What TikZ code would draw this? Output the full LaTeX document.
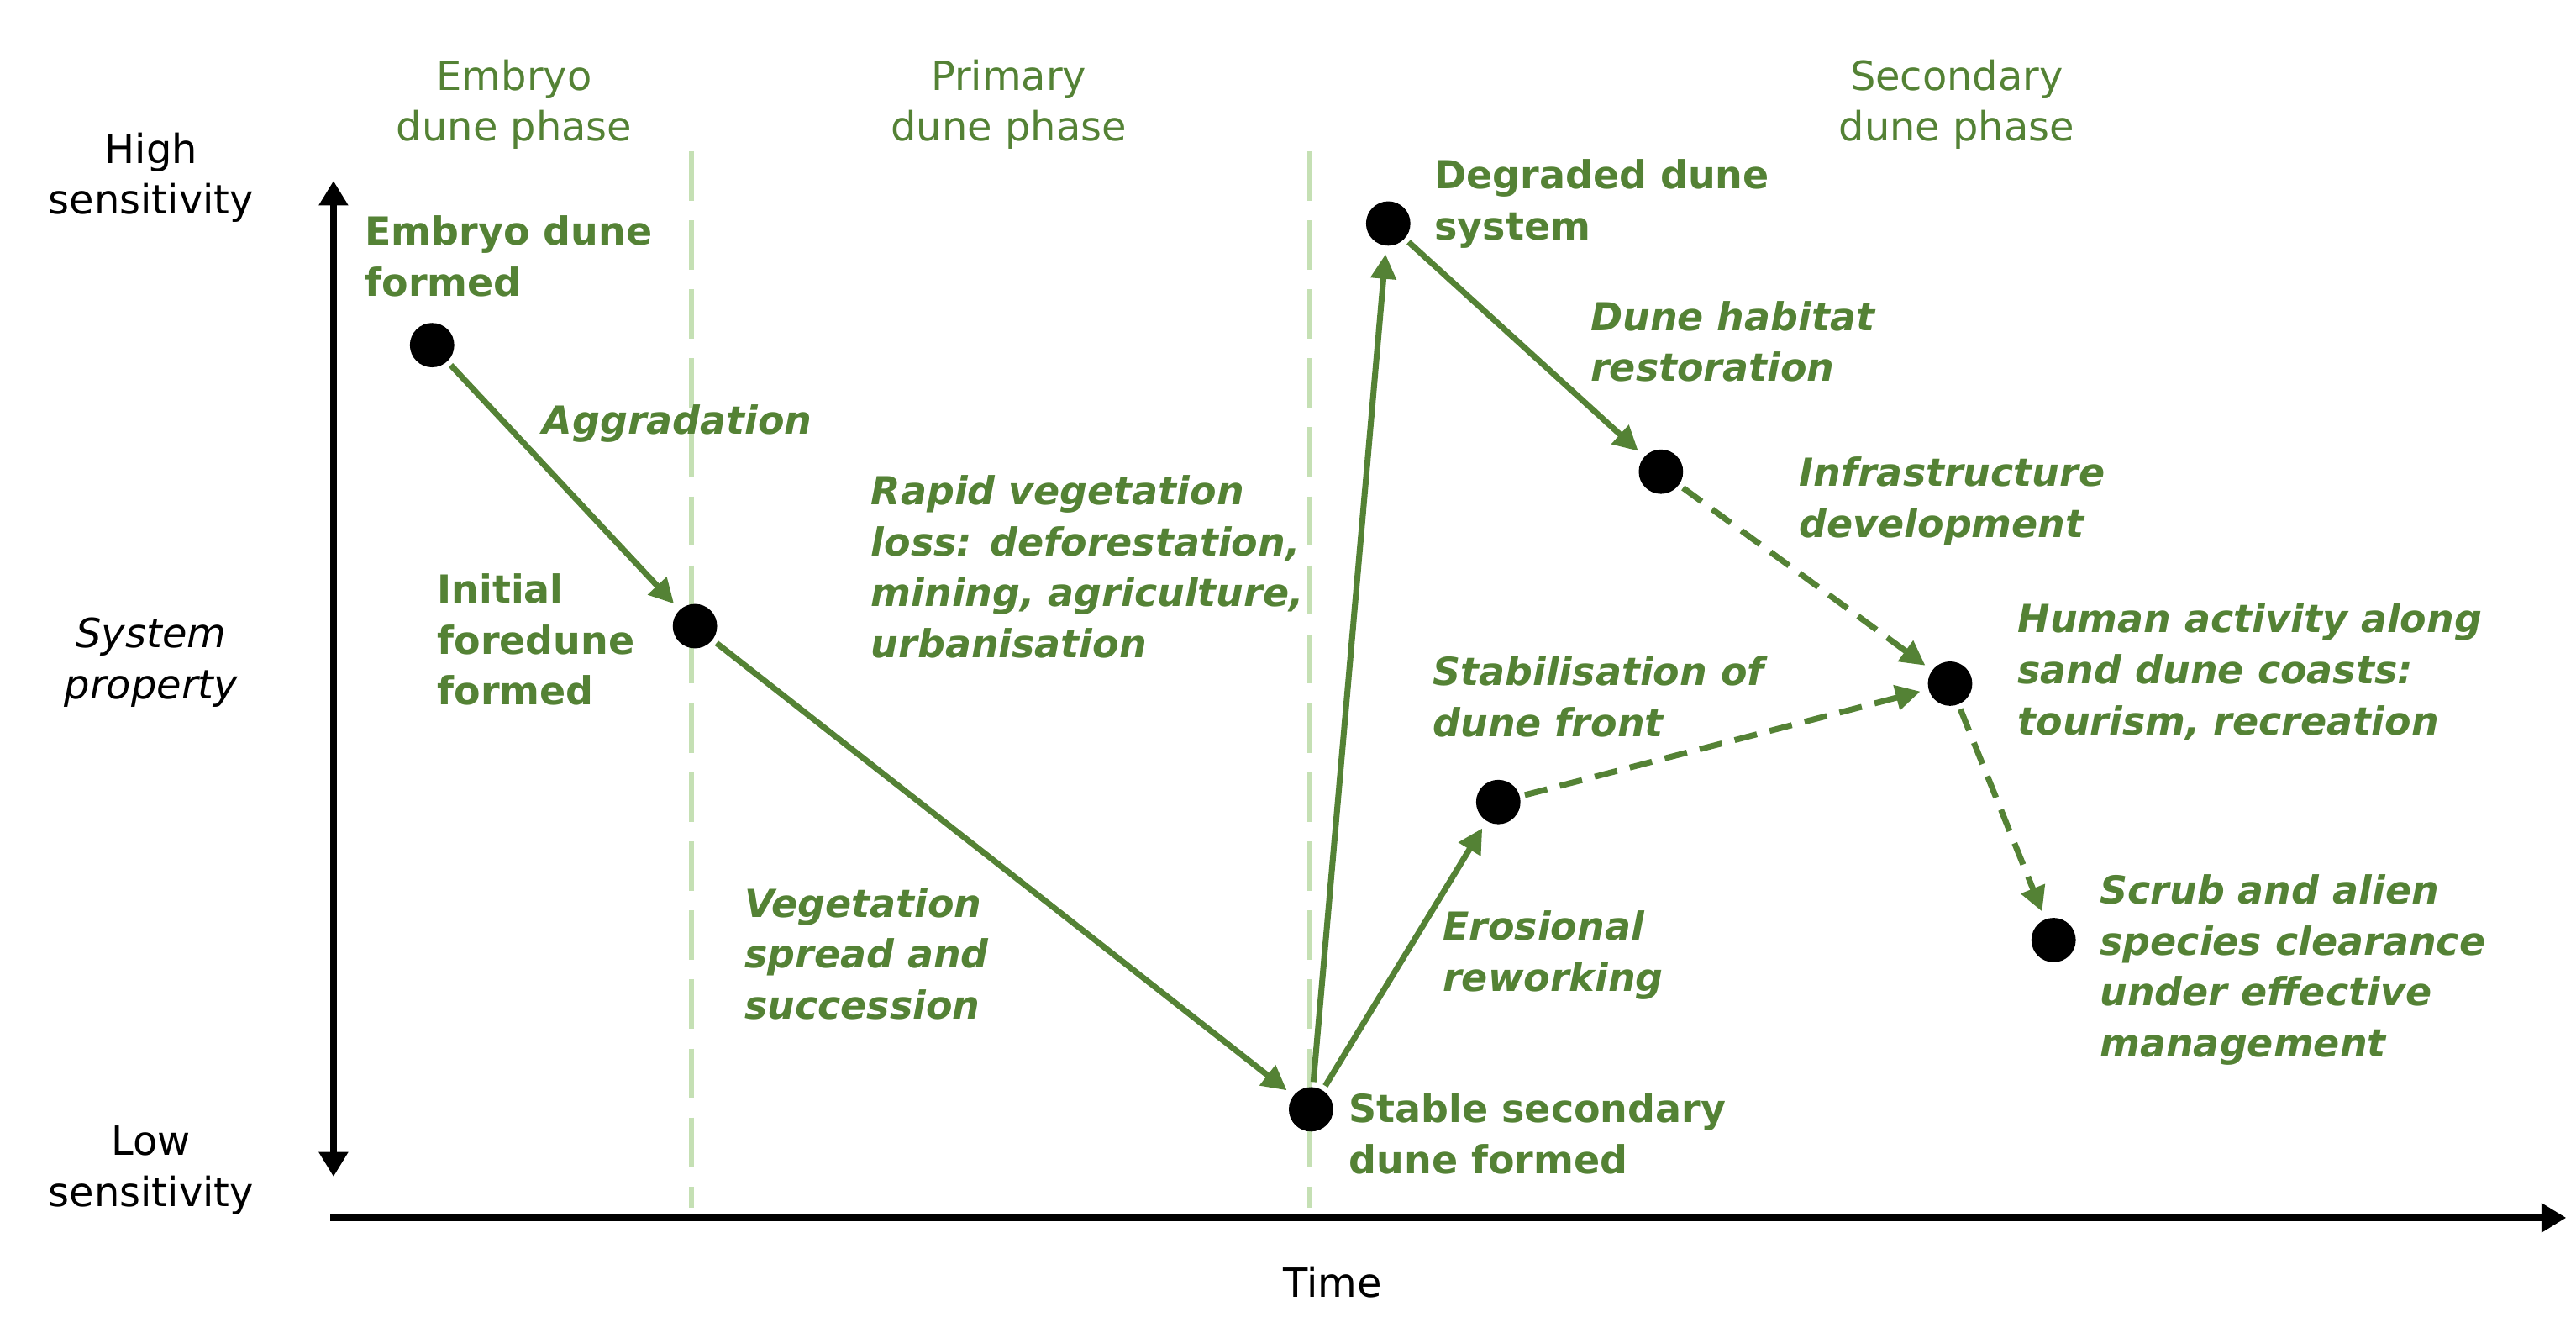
\documentclass[tikz,border=0pt]{standalone}
\usepackage{fontspec}
\setmainfont{DejaVu Sans}
\usetikzlibrary{arrows.meta}
\definecolor{dg}{HTML}{548235}
\definecolor{lg}{HTML}{C5E0B4}
\begin{document}
\begin{tikzpicture}[x=1pt,y=-1pt,
  lab/.style={text=dg,font=\fontsize{23.5}{31}\selectfont\bfseries,align=left,anchor=north west,inner sep=0},
  ilab/.style={lab,font=\fontsize{23.5}{31}\selectfont\bfseries\itshape},
  phase/.style={text=dg,font=\fontsize{24.5}{31}\selectfont,align=center,anchor=north,inner sep=0},
  axl/.style={font=\fontsize{24.5}{31}\selectfont,align=center,inner sep=0},
  dot/.style={circle,fill=black,minimum size=27pt,inner sep=0},
  con/.style={draw=dg,line width=3.6pt,-{Triangle[length=15pt,width=15pt]},shorten >=5pt,shorten <=3pt},
  dcon/.style={con,dash pattern=on 14pt off 8pt},
  vl/.style={draw=lg,line width=3pt,dash pattern=on 30pt off 12pt}]
\useasboundingbox (0,0) rectangle (1568,811);
\coordinate (v1) at (421,92); \coordinate (v1b) at (421,735);
\coordinate (v2) at (797,92); \coordinate (v2b) at (797,735);
\draw[vl] (v1) -- (v1b);
\draw[vl] (v2) -- (v2b);
\coordinate (yt) at (203,110); \coordinate (yb) at (203,716);
\draw[line width=4pt,{Triangle[length=15pt,width=17pt]}-{Triangle[length=15pt,width=17pt]}] (yt) -- (yb);
\coordinate (xl) at (201,741); \coordinate (xr) at (1562,741);
\draw[line width=4pt,-{Triangle[length=15pt,width=17pt]}] (xl) -- (xr);
\node[phase] (p1) at (313,36) {Embryo\\dune phase};
\node[phase] (p2) at (614,36) {Primary\\dune phase};
\node[phase] (p3) at (1191,36) {Secondary\\dune phase};
\node[axl] (hs) at (92,108) {High\\sensitivity};
\node[axl,font=\fontsize{24.5}{31}\selectfont\itshape] (sp) at (92,403) {System\\property};
\node[axl] (ls) at (92,712) {Low\\sensitivity};
\node[axl] (tm) at (811,780) {Time};
\node[dot] (A) at (263,210) {};
\node[dot] (B) at (423,381) {};
\node[dot] (C) at (798,675) {};
\node[dot] (D) at (845,136) {};
\node[dot] (E) at (1011,287) {};
\node[dot] (F) at (1187,416) {};
\node[dot] (G) at (912,488) {};
\node[dot] (H) at (1250,572) {};
\draw[con] (A) -- (B);
\draw[con] (B) -- (C);
\draw[con] (C) -- (D);
\draw[con] (C) -- (G);
\draw[con] (D) -- (E);
\draw[dcon] (E) -- (F);
\draw[dcon] (G) -- (F);
\draw[dcon] (F) -- (H);
\node[lab] (tA) at (222,131) {Embryo dune\\formed};
\node[ilab] (tAg) at (330,246) {Aggradation};
\node[lab] (tB) at (266,349) {Initial\\foredune\\formed};
\node[ilab] (tR) at (530,289) {Rapid vegetation\\loss: deforestation,\\mining, agriculture,\\urbanisation};
\node[ilab] (tV) at (453,540) {Vegetation\\spread and\\succession};
\node[lab] (tC) at (821,665) {Stable secondary\\dune formed};
\node[lab] (tD) at (873,97) {Degraded dune\\system};
\node[ilab] (tE) at (968,183) {Dune habitat\\restoration};
\node[ilab] (tI) at (1095,278) {Infrastructure\\development};
\node[ilab] (tF) at (1228,367) {Human activity along\\sand dune coasts:\\tourism, recreation};
\node[ilab] (tS) at (872,399) {Stabilisation of\\dune front};
\node[ilab] (tEr) at (878,554) {Erosional\\reworking};
\node[ilab] (tH) at (1278,532) {Scrub and alien\\species clearance\\under effective\\management};
\end{tikzpicture}
\end{document}
